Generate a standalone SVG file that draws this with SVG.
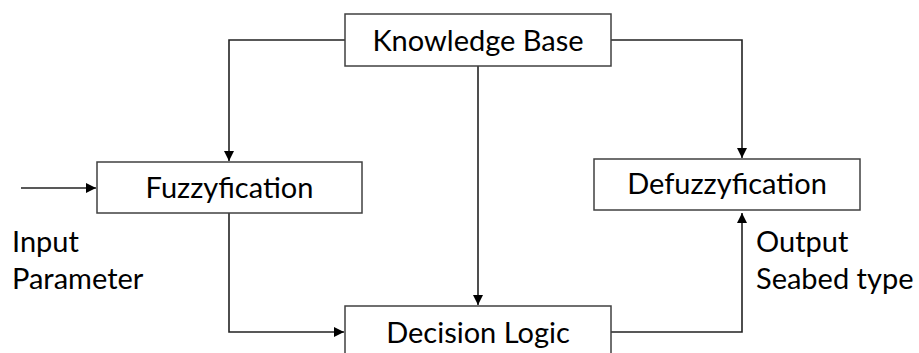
<svg xmlns="http://www.w3.org/2000/svg" width="919" height="353" viewBox="0 0 919 353">
<style>
.box{fill:#fff;stroke:#404040;stroke-width:1.5}
.lbl{font-family:Lato,"Liberation Sans",sans-serif;font-size:29px;fill:#000}
.c{fill:none;stroke:#222;stroke-width:1.6}
</style>
<defs>
<marker id="ah" viewBox="0 0 10 10" refX="10" refY="5" markerWidth="10" markerHeight="10" markerUnits="userSpaceOnUse" orient="auto">
<path d="M0,0 L10,5 L0,10 z" fill="#000"/>
</marker>
</defs>
<rect width="919" height="353" fill="#fff"/>
<g id="connectors">
<path class="c" d="M345,40 H229 V161" marker-end="url(#ah)"/>
<path class="c" d="M611,40 H742 V158" marker-end="url(#ah)"/>
<path class="c" d="M478,66 V305" marker-end="url(#ah)"/>
<path class="c" d="M21,188 H96" marker-end="url(#ah)"/>
<path class="c" d="M229,213 V332 H344" marker-end="url(#ah)"/>
<path class="c" d="M611,332 H742 V213" marker-end="url(#ah)"/>
</g>
<g id="kb">
<rect class="box" x="345" y="14" width="266" height="52"/>
<text class="lbl" x="478" y="51" text-anchor="middle">Knowledge Base</text>
</g>
<g id="fuzz">
<rect class="box" x="97" y="162" width="265" height="51"/>
<text class="lbl" x="229.5" y="198" text-anchor="middle">Fuzzyfication</text>
</g>
<g id="defuzz">
<rect class="box" x="594" y="159" width="266" height="51"/>
<text class="lbl" x="727" y="194" text-anchor="middle">Defuzzyfication</text>
</g>
<g id="decision">
<rect class="box" x="345" y="306" width="266" height="60"/>
<text class="lbl" x="478" y="343" text-anchor="middle">Decision Logic</text>
</g>
<g id="input-label">
<text class="lbl" x="12" y="252">Input</text>
<text class="lbl" x="12" y="289">Parameter</text>
</g>
<g id="output-label">
<text class="lbl" x="756" y="252">Output</text>
<text class="lbl" x="756" y="289">Seabed type</text>
</g>
</svg>
